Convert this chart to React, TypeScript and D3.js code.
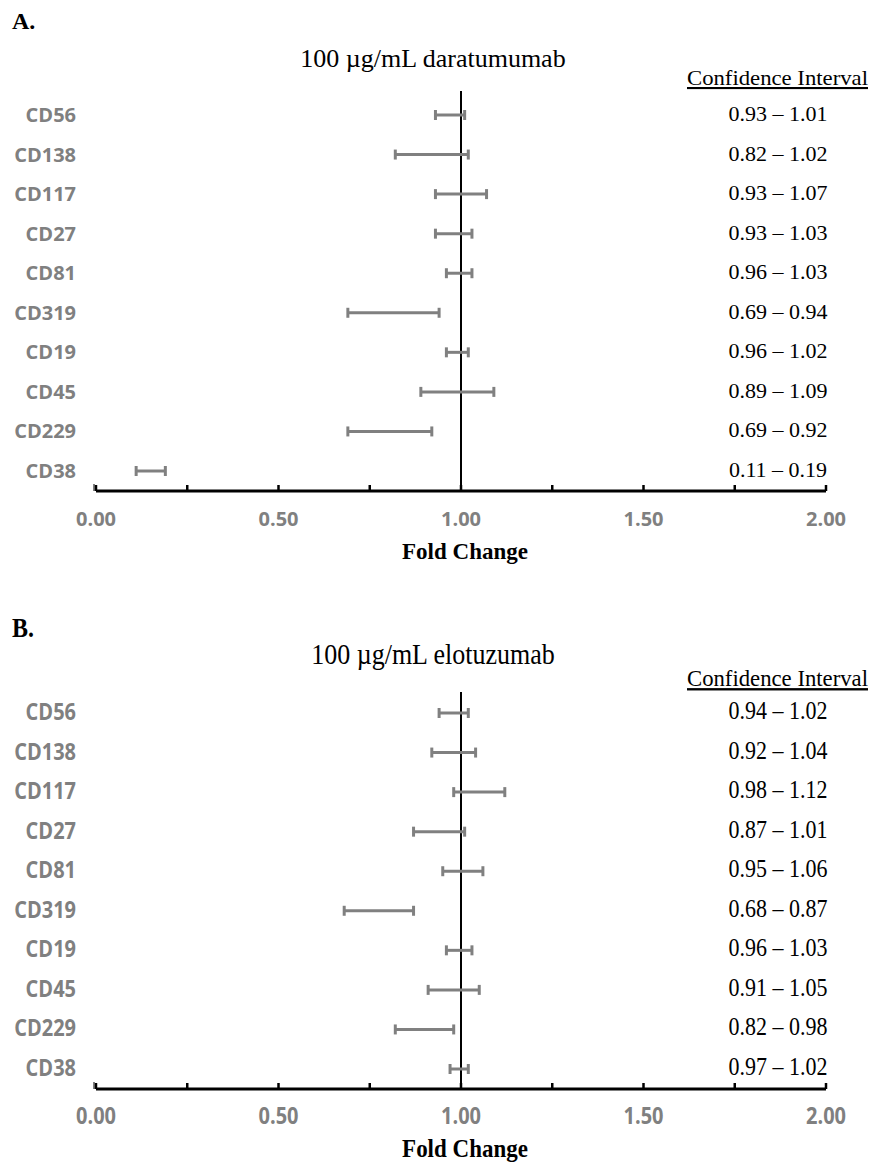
import React from 'react';
import * as d3 from 'd3';

// markers, top to bottom
const markers = ['CD56', 'CD138', 'CD117', 'CD27', 'CD81', 'CD319', 'CD19', 'CD45', 'CD229', 'CD38'];

// 100 ug/mL daratumumab confidence intervals
const daraLow = [0.93, 0.82, 0.93, 0.93, 0.96, 0.69, 0.96, 0.89, 0.69, 0.11];
const daraHigh = [1.01, 1.02, 1.07, 1.03, 1.03, 0.94, 1.02, 1.09, 0.92, 0.19];

// 100 ug/mL elotuzumab confidence intervals
const eloLow = [0.94, 0.92, 0.98, 0.87, 0.95, 0.68, 0.96, 0.91, 0.82, 0.97];
const eloHigh = [1.02, 1.04, 1.12, 1.01, 1.06, 0.87, 1.03, 1.05, 0.98, 1.02];

const majorTicks = [0, 0.5, 1, 1.5, 2];
const minorTicks = [0.25, 0.75, 1.25, 1.75];

const W = 872;
const H = 1165;
const GRAY = '#808080';
const SERIF = '"Liberation Serif", "Times New Roman", serif';
const SANS = '"Open Sans", "Noto Sans", sans-serif';

const x = d3.scaleLinear().domain([0, 2]).range([96, 826]);
const fmt = d3.format('.2f');

// text with an optional vertical stretch (panel B text is a bit taller)
const T = ({ x, y, sy = 1, children, ...rest }: any) => (
  <text transform={`translate(${x},${y}) scale(1,${sy})`} {...rest}>{children}</text>
);

type PanelProps = {
  letter: string;
  title: string;
  low: number[];
  high: number[];
  top: number; // offset of the plot area
  letterY: number;
  titleY: number;
  headerY: number;
  sy: number;
};

const Panel = ({ letter, title, low, high, top, letterY, titleY, headerY, sy }: PanelProps) => {
  const y = d3.scalePoint<string>().domain(markers).range([top + 115, top + 471]);
  const axisY = top + 491;
  return (
    <g>
      <T x={12} y={letterY} sy={sy} fontFamily={SERIF} fontWeight="bold" fontSize={24}>{letter}</T>
      <T x={433} y={titleY} sy={sy} textAnchor="middle" fontFamily={SERIF} fontSize={26}>{title}</T>
      <T x={868} y={headerY} sy={sy} textAnchor="end" fontFamily={SERIF} fontSize={21}
        textLength={181} lengthAdjust="spacingAndGlyphs" textDecoration="underline">Confidence Interval</T>

      {/* reference line at 1.00 */}
      <line x1={x(1)} x2={x(1)} y1={headerY + 6} y2={axisY} stroke="#000" strokeWidth={2} />

      {markers.map((m, i) => {
        const yy = y(m)!;
        return (
          <g key={m}>
            <T x={76} y={yy + 7} sy={sy} textAnchor="end" fontFamily={SANS} fontWeight="bold"
              fontSize={20} fill={GRAY}>{m}</T>
            <line x1={x(low[i])} x2={x(high[i])} y1={yy} y2={yy} stroke={GRAY} strokeWidth={3} />
            <line x1={x(low[i])} x2={x(low[i])} y1={yy - 5} y2={yy + 5} stroke={GRAY} strokeWidth={3} />
            <line x1={x(high[i])} x2={x(high[i])} y1={yy - 5} y2={yy + 5} stroke={GRAY} strokeWidth={3} />
            <T x={778} y={yy + 6} sy={sy} textAnchor="middle" fontFamily={SERIF} fontSize={22}>
              {`${fmt(low[i])} \u2013 ${fmt(high[i])}`}
            </T>
          </g>
        );
      })}

      {/* x axis */}
      <line x1={x(0)} x2={x(2)} y1={axisY} y2={axisY} stroke="#000" strokeWidth={3} />
      <line x1={x(0) - 2} x2={x(0) - 2} y1={axisY - 7} y2={axisY} stroke="#000" strokeWidth={1} />
      {majorTicks.concat(minorTicks).map((t) => (
        <line key={t} x1={x(t)} x2={x(t)} y1={axisY - 6} y2={axisY} stroke="#000" strokeWidth={2.5} />
      ))}
      {majorTicks.map((t) => (
        <T key={t} x={x(t)} y={axisY + 35} sy={sy} textAnchor="middle" fontFamily={SANS}
          fontWeight="bold" fontSize={20} fill={GRAY}>{fmt(t)}</T>
      ))}
      <T x={465} y={axisY + 68} sy={sy} textAnchor="middle" fontFamily={SERIF} fontWeight="bold"
        fontSize={23}>Fold Change</T>
    </g>
  );
};

export default function App() {
  return (
    <svg width={W} height={H} style={{ position: 'absolute', left: 0, top: 0, background: '#fff' }}>
      <rect width={W} height={H} fill="#fff" />
      <Panel letter="A." title={'100 \u00b5g/mL daratumumab'} low={daraLow} high={daraHigh}
        top={0} letterY={29} titleY={67} headerY={85} sy={1} />
      <Panel letter="B." title={'100 \u00b5g/mL elotuzumab'} low={eloLow} high={eloHigh}
        top={598} letterY={637} titleY={664} headerY={686} sy={1.12} />
    </svg>
  );
}
